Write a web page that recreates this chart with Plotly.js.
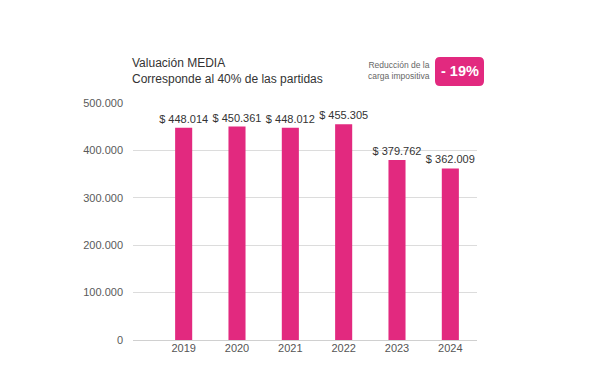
<!DOCTYPE html>
<html>
<head>
<meta charset="utf-8">
<script src="https://cdn.plot.ly/plotly-3.0.1.min.js"></script>
<style>html,body{margin:0;padding:0;background:#fff;}#chart{width:592px;height:384px;}</style>
</head>
<body>
<div id="chart"></div>
<script>
const years = ["2019", "2020", "2021", "2022", "2023", "2024"];
const values = [448014, 450361, 448012, 455305, 379762, 362009];
const yTicks = [0, 100000, 200000, 300000, 400000, 500000];
const titleLines = ["Valuación MEDIA", "Corresponde al 40% de las partidas"];
const badgeLabel = ["Reducción de la", "carga impositiva"];
const badgeValue = "- 19%";

const L = 133, R = 477, T = 103, B = 340;
const W = R - L, H = B - T;
const px = x => (x - L) / W;
const py = y => (B - y) / H;

const pink = "#e2297f";
const font = "Liberation Sans, Arial, sans-serif";

function roundRect(x0, y0, x1, y1, r) {
  const rx = r / W, ry = r / H;
  const X0 = px(x0), X1 = px(x1), Y0 = py(y1), Y1 = py(y0);
  return `M ${X0 + rx} ${Y1} L ${X1 - rx} ${Y1} Q ${X1} ${Y1} ${X1} ${Y1 - ry} ` +
         `L ${X1} ${Y0 + ry} Q ${X1} ${Y0} ${X1 - rx} ${Y0} ` +
         `L ${X0 + rx} ${Y0} Q ${X0} ${Y0} ${X0} ${Y0 + ry} ` +
         `L ${X0} ${Y1 - ry} Q ${X0} ${Y1} ${X0 + rx} ${Y1} Z`;
}

const trace = {
  type: "bar",
  x: years,
  y: values,
  marker: { color: pink },
  width: 0.32,
  texttemplate: "$ %{y:,}",
  textposition: "outside",
  constraintext: "none",
  textfont: { family: font, size: 11, color: "#333" },
  cliponaxis: false,
  hoverinfo: "none"
};

const layout = {
  width: 592, height: 384,
  margin: { l: L, r: 592 - R, t: T, b: 384 - B, pad: 0 },
  paper_bgcolor: "#fff", plot_bgcolor: "#fff",
  separators: ",.",
  showlegend: false,
  font: { family: font, color: "#555", size: 11 },
  xaxis: {
    type: "category",
    range: [-0.95, 5.5],
    showgrid: false, zeroline: false, showline: false, ticks: "",
    tickfont: { family: font, size: 11, color: "#555" }
  },
  yaxis: {
    range: [0, 500000],
    tickvals: yTicks,
    tickformat: ",",
    showgrid: true, gridcolor: "#dcdcdc", gridwidth: 1,
    zeroline: true, zerolinecolor: "#d0d0d0", zerolinewidth: 1,
    showline: false, ticks: "", ticklabelstandoff: 9,
    tickfont: { family: font, size: 11, color: "#5a5a5a" }
  },
  shapes: [
    { type: "path", xref: "paper", yref: "paper", path: roundRect(435, 57, 484, 86, 5),
      fillcolor: pink, line: { width: 0 } }
  ],
  annotations: [
    { xref: "paper", yref: "paper", x: px(130), y: py(70.5), xanchor: "left", yanchor: "middle",
      align: "left", showarrow: false, text: titleLines.join("<br>"),
      font: { family: font, size: 12, color: "#333" } },
    { xref: "paper", yref: "paper", x: px(432), y: py(70.5), xanchor: "right", yanchor: "middle",
      align: "right", showarrow: false, text: badgeLabel.join("<br>"),
      font: { family: font, size: 8.5, color: "#666" } },
    { xref: "paper", yref: "paper", x: px(459.5), y: py(71.5), xanchor: "center", yanchor: "middle",
      showarrow: false, text: "<b>" + badgeValue + "</b>",
      font: { family: font, size: 14.5, color: "#fff" } }
  ]
};

Plotly.newPlot("chart", [trace], layout, { displayModeBar: false, staticPlot: true });
</script>
</body>
</html>
